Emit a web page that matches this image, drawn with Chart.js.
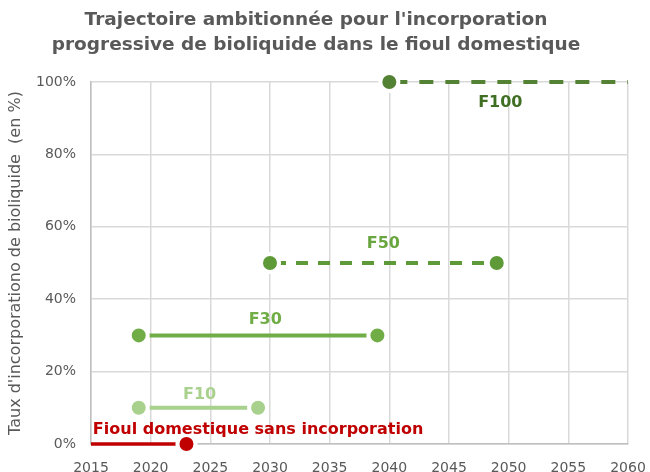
<!DOCTYPE html>
<html>
<head>
<meta charset="utf-8">
<script src="https://cdn.jsdelivr.net/npm/chart.js@4.4.0/dist/chart.umd.min.js"></script>
<style>
  html, body { margin: 0; padding: 0; background: #fff; overflow: hidden; }
  #wrap { width: 650px; height: 472px; position: relative; }
</style>
</head>
<body>
<div id="wrap"><canvas id="chart"></canvas></div>
<script>
// -- Data --
const xTicks = [2015, 2020, 2025, 2030, 2035, 2040, 2045, 2050, 2055, 2060];
const yTicks = [0, 20, 40, 60, 80, 100];

const fioulYears = [2015, 2023];
const fioulValues = [0, 0];

const f10Years = [2019, 2029];
const f10Values = [10, 10];

const f30Years = [2019, 2039];
const f30Values = [30, 30];

const f50Years = [2030, 2049];
const f50Values = [50, 50];

const f100Years = [2040, 2060];
const f100Values = [100, 100];

const seriesNames = ['Fioul domestique sans incorporation', 'F10', 'F30', 'F50', 'F100'];

const GRAY = '#595959';
const FONT = "'DejaVu Sans', sans-serif";

function pts(xs, ys) {
    return xs.map((x, i) => ({ x: x, y: ys[i] }));
}

// label anchors, in data units
const labelSpots = [
    { text: seriesNames[0], x: 2029.0, y: 3.9, color: '#C00000', size: 16 },
    { text: seriesNames[1], x: 2024.1, y: 13.5, color: '#A9D18E', size: 16 },
    { text: seriesNames[2], x: 2029.6, y: 34.2, color: '#70AD47', size: 16 },
    { text: seriesNames[3], x: 2039.5, y: 55.2, color: '#6AA640', size: 16 },
    { text: seriesNames[4], x: 2049.3, y: 94.2, color: '#3F6F22', size: 16 }
];

const seriesLabels = {
    id: 'seriesLabels',
    afterDatasetsDraw(chart) {
        const { ctx, scales } = chart;
        ctx.save();
        ctx.textAlign = 'center';
        ctx.textBaseline = 'middle';
        labelSpots.forEach(l => {
            ctx.font = `bold ${l.size}px ${FONT}`;
            ctx.fillStyle = l.color;
            ctx.fillText(l.text, scales.x.getPixelForValue(l.x), scales.y.getPixelForValue(l.y));
        });
        ctx.restore();
    }
};

function lineSet(name, xs, ys, color, opts) {
    return Object.assign({
        label: name,
        data: pts(xs, ys),
        showLine: true,
        borderColor: color,
        backgroundColor: color,
        borderWidth: 4,
        pointRadius: 9,
        pointBorderWidth: 4,
        pointBorderColor: '#ffffff',
        pointBackgroundColor: color,
        clip: false
    }, opts || {});
}

new Chart(document.getElementById('chart'), {
    type: 'scatter',
    data: {
        datasets: [
            lineSet(seriesNames[0], fioulYears, fioulValues, '#C00000', { pointRadius: [0, 9], borderWidth: 3.5 }),
            lineSet(seriesNames[1], f10Years, f10Values, '#A9D18E'),
            lineSet(seriesNames[2], f30Years, f30Values, '#70AD47'),
            lineSet(seriesNames[3], f50Years, f50Values, '#5E9A38', { borderDash: [12, 10], borderDashOffset: -4 }),
            lineSet(seriesNames[4], f100Years, f100Values, '#548235', { borderDash: [14, 12], borderDashOffset: -4, pointRadius: [9, 0] })
        ]
    },
    options: {
        responsive: true,
        maintainAspectRatio: false,
        animation: false,
        layout: { padding: { left: 4, right: 22, top: 0, bottom: 0 } },
        plugins: {
            legend: { display: false },
            tooltip: { enabled: false },
            title: {
                display: true,
                text: ["Trajectoire ambitionnée pour l'incorporation", 'progressive de bioliquide dans le fioul domestique'],
                color: GRAY,
                font: { family: FONT, size: 18.5, weight: 'bold', lineHeight: 1.38 },
                padding: { top: 7, bottom: 24 }
            }
        },
        scales: {
            x: {
                type: 'linear',
                min: xTicks[0],
                max: xTicks[xTicks.length - 1],
                afterBuildTicks: (s) => { s.ticks = xTicks.map(v => ({ value: v })); },
                afterFit: (s) => { s.height = 28; },
                ticks: { color: GRAY, font: { family: FONT, size: 14, lineHeight: 2.9 }, padding: 4, callback: v => String(v) },
                grid: { color: '#D9D9D9', lineWidth: 1.5, drawTicks: false },
                border: { color: '#BFBFBF', width: 1.5 }
            },
            y: {
                min: 0,
                max: 100,
                afterBuildTicks: (s) => { s.ticks = yTicks.map(v => ({ value: v })); },
                afterFit: (s) => { s.width = 87; },
                ticks: { color: GRAY, font: { family: FONT, size: 14 }, padding: 15, callback: v => v + '%' },
                grid: { color: '#D9D9D9', lineWidth: 1.5, drawTicks: false },
                border: { color: '#BFBFBF', width: 1.5 },
                title: {
                    display: true,
                    text: "Taux d'incorporationo de bioliquide  (en %)",
                    color: GRAY,
                    font: { family: FONT, size: 16 },
                    padding: { top: 2, bottom: 0 }
                }
            }
        }
    },
    plugins: [seriesLabels]
});
</script>
</body>
</html>
